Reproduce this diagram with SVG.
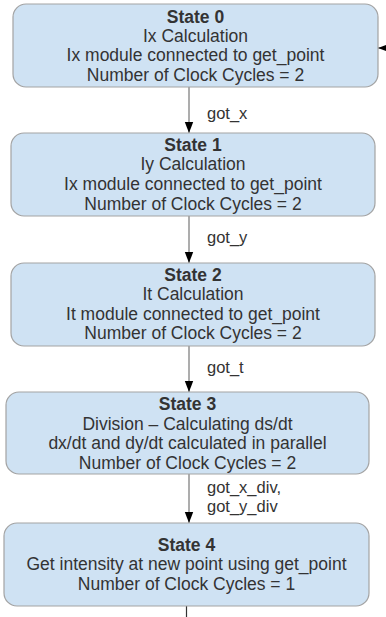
<svg xmlns="http://www.w3.org/2000/svg" width="386" height="617" viewBox="0 0 386 617">
<style>
.box{fill:#cfe2f3;stroke:#a3a3a3;stroke-width:1.2}
.t{font-family:"Liberation Sans",Arial,sans-serif;font-size:17.5px;fill:#333;text-anchor:middle}
.b{font-weight:bold}
.lbl{font-family:"Liberation Sans",Arial,sans-serif;font-size:16.5px;fill:#333}
.edge{stroke:#999;stroke-width:1.6;fill:none}
</style>
<defs>
<marker id="ah" markerUnits="userSpaceOnUse" markerWidth="11" markerHeight="10" refX="11" refY="5" orient="auto">
<path d="M0,0.8 L11,5 L0,9.2 Z" fill="#000"/>
</marker>
</defs>
<rect width="386" height="617" fill="#fff"/>
<g id="connectors">
<line class="edge" x1="189" y1="87" x2="189" y2="133" marker-end="url(#ah)"/>
<line class="edge" x1="189" y1="216" x2="189" y2="263" marker-end="url(#ah)"/>
<line class="edge" x1="189" y1="346" x2="189" y2="392" marker-end="url(#ah)"/>
<line class="edge" x1="189" y1="474" x2="189" y2="523" marker-end="url(#ah)"/>
<line x1="186.5" y1="606" x2="186.5" y2="617" stroke="#333" stroke-width="1.2"/>
<line class="edge" x1="396" y1="48" x2="378" y2="48" marker-end="url(#ah)"/>
<text class="lbl" x="207" y="119">got_x</text>
<text class="lbl" x="207" y="243">got_y</text>
<text class="lbl" x="207" y="373">got_t</text>
<text class="lbl" x="207" y="493">got_x_div,</text>
<text class="lbl" x="207" y="512">got_y_div</text>
</g>
<g id="state0">
<rect class="box" x="13" y="4" width="365" height="83" rx="13"/>
<text class="t b" x="195.5" y="22.5">State 0</text>
<text class="t" x="195.5" y="41.5">Ix Calculation</text>
<text class="t" x="195.5" y="61">Ix module connected to get_point</text>
<text class="t" x="195.5" y="80.5">Number of Clock Cycles = 2</text>
</g>
<g id="state1">
<rect class="box" x="11" y="133" width="364" height="83" rx="13"/>
<text class="t b" x="193" y="151">State 1</text>
<text class="t" x="193" y="170">Iy Calculation</text>
<text class="t" x="193" y="190">Ix module connected to get_point</text>
<text class="t" x="193" y="209.5">Number of Clock Cycles = 2</text>
</g>
<g id="state2">
<rect class="box" x="11" y="263" width="364" height="83" rx="13"/>
<text class="t b" x="193" y="281">State 2</text>
<text class="t" x="193" y="299.5">It Calculation</text>
<text class="t" x="193" y="319.5">It module connected to get_point</text>
<text class="t" x="193" y="339">Number of Clock Cycles = 2</text>
</g>
<g id="state3">
<rect class="box" x="6" y="392" width="363" height="82" rx="13"/>
<text class="t b" x="187.5" y="410">State 3</text>
<text class="t" x="187.5" y="429.5">Division – Calculating ds/dt</text>
<text class="t" x="187.5" y="449">dx/dt and dy/dt calculated in parallel</text>
<text class="t" x="187.5" y="468.5">Number of Clock Cycles = 2</text>
</g>
<g id="state4">
<rect class="box" x="4" y="523" width="365" height="83" rx="13"/>
<text class="t b" x="186.5" y="550.5">State 4</text>
<text class="t" x="186.5" y="570">Get intensity at new point using get_point</text>
<text class="t" x="186.5" y="589.5">Number of Clock Cycles = 1</text>
</g>
</svg>
